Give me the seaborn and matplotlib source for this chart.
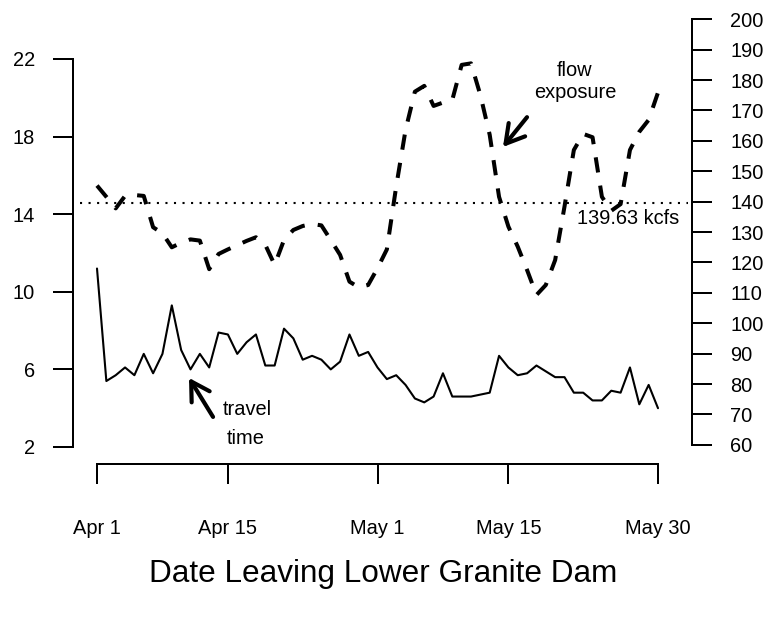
import matplotlib
matplotlib.use("Agg")
import matplotlib.pyplot as plt
import seaborn as sns

# Day index counted from Apr 1
days = list(range(61))

# Juvenile travel time (days), left axis
travel_time = [11.2, 5.4, 5.7, 6.1, 5.7, 6.8, 5.8, 6.8, 9.3, 7.0,
               6.0, 6.8, 6.1, 7.9, 7.8, 6.8, 7.4, 7.8, 6.2, 6.2,
               8.1, 7.6, 6.5, 6.7, 6.5, 6.0, 6.4, 7.8, 6.7, 6.9,
               6.1, 5.5, 5.7, 5.2, 4.5, 4.3, 4.6, 5.8, 4.6, 4.6,
               4.6, 4.7, 4.8, 6.7, 6.1, 5.7, 5.8, 6.2, 5.9, 5.6,
               5.6, 4.8, 4.8, 4.4, 4.4, 4.9, 4.8, 6.1, 4.2, 5.2,
               4.0]

# Flow exposure (kcfs), right axis
flow_kcfs = [145.3, 141.6, 137.8, 141.9, 142.2, 141.9, 131.6, 129.6, 125.0, 126.5,
             127.6, 127.2, 117.8, 122.8, 124.3, 125.7, 127.1, 128.3, 125.8, 119.2,
             127.4, 130.7, 132.0, 132.7, 132.2, 127.4, 122.5, 113.7, 111.8, 112.6,
             118.1, 124.3, 145.0, 163.6, 176.2, 178.1, 171.5, 172.6, 173.5, 185.0,
             185.5, 175.1, 162.0, 141.6, 131.8, 125.2, 117.5, 109.3, 112.6, 120.8,
             138.4, 157.0, 162.3, 161.2, 141.6, 137.0, 139.2, 157.0, 163.0, 166.9,
             175.9]

flow_threshold = 139.63

date_ticks = [0, 14, 30, 44, 60]
date_labels = ["Apr 1", "Apr 15", "May 1", "May 15", "May 30"]
left_ticks = [2, 6, 10, 14, 18, 22]
right_ticks = list(range(60, 201, 10))

sns.set_style("white")
plt.rcParams["font.family"] = ["Liberation Sans", "DejaVu Sans"]
plt.rcParams["text.color"] = "black"
plt.rcParams["axes.labelcolor"] = "black"

W, H = 767, 618
fig = plt.figure(figsize=(W / 100, H / 100), dpi=100)
ax = fig.add_axes([73 / W, 1 - 470 / H, (692 - 73) / W, (470 - 15) / H])
ax2 = ax.twinx()

FS = 14.4
TICK_LEN = 14.4
AX_LW = 1.44

# travel time (solid)
sns.lineplot(x=days, y=travel_time, ax=ax, color="black", linewidth=1.5)

# flow exposure (dashed)
sns.lineplot(x=days, y=flow_kcfs, ax=ax2, color="black", linewidth=2.9)
flow_line = ax2.lines[0]
flow_line.set_dashes([3.8, 3.3])
flow_line.set_dash_capstyle("butt")

# threshold flow
ax2.hlines(flow_threshold, -1.82, 63.2, colors="black", linewidth=1.5,
           linestyles=(0, (1, 3.1)))
ax2.text(51.34, flow_threshold - 5.0, f"{flow_threshold:.2f} kcfs",
         ha="left", va="center", fontsize=FS, color="black")

# limits
ax.set_xlim(-2.567, 63.636)
ax.set_ylim(0.814, 24.268)
ax2.set_ylim(51.74, 201.41)

# spines
for s in ["top", "right"]:
    ax.spines[s].set_visible(False)
for s in ["top", "left", "bottom"]:
    ax2.spines[s].set_visible(False)
ax.spines["left"].set_bounds(2, 22)
ax.spines["bottom"].set_bounds(0, 60)
ax.spines["bottom"].set_position(("axes", (470 - 464) / 455))
ax2.spines["right"].set_bounds(60, 200)
for sp in [ax.spines["left"], ax.spines["bottom"], ax2.spines["right"]]:
    sp.set_linewidth(AX_LW)
    sp.set_color("black")

# ticks
ax.set_xticks(date_ticks)
ax.set_xticklabels(date_labels)
ax.set_yticks(left_ticks)
ax.set_yticklabels([str(t) for t in left_ticks])
ax2.set_yticks(right_ticks)
ax2.set_yticklabels([str(t) for t in right_ticks])

ax.tick_params(axis="x", direction="out", length=TICK_LEN, width=AX_LW,
               pad=25, labelsize=FS, bottom=True, colors="black")
ax.tick_params(axis="y", direction="out", length=TICK_LEN, width=AX_LW,
               pad=13, labelsize=FS, left=True, colors="black")
ax2.tick_params(axis="y", direction="out", length=TICK_LEN, width=AX_LW,
                pad=13, labelsize=FS, right=True, colors="black")

ax.set_ylabel("")
ax2.set_ylabel("")
ax.set_xlabel("Date Leaving Lower Granite Dam", fontsize=22.7, va="center",
              color="black")
ax.xaxis.set_label_coords((383 - 73) / (692 - 73), (470 - 574) / 455)

# annotations
arrow = dict(arrowstyle="->,head_length=0.65,head_width=0.38", lw=3,
             color="black", shrinkA=0, shrinkB=0, mutation_scale=20)
ax.annotate("", xy=(9.84, 5.56), xytext=(12.41, 3.55), arrowprops=arrow)
ax.text(16.04, 3.91, "travel", ha="center", va="center", fontsize=FS, color="black")
ax.text(15.94, 2.46, "time", ha="center", va="center", fontsize=FS, color="black")

ax2.annotate("", xy=(43.42, 158.0), xytext=(45.99, 167.8), arrowprops=arrow)
ax2.text(51.12, 183.3, "flow", ha="center", va="center", fontsize=FS, color="black")
ax2.text(51.12, 175.8, "exposure", ha="center", va="center", fontsize=FS, color="black")

fig.savefig("out.png", dpi=100)
